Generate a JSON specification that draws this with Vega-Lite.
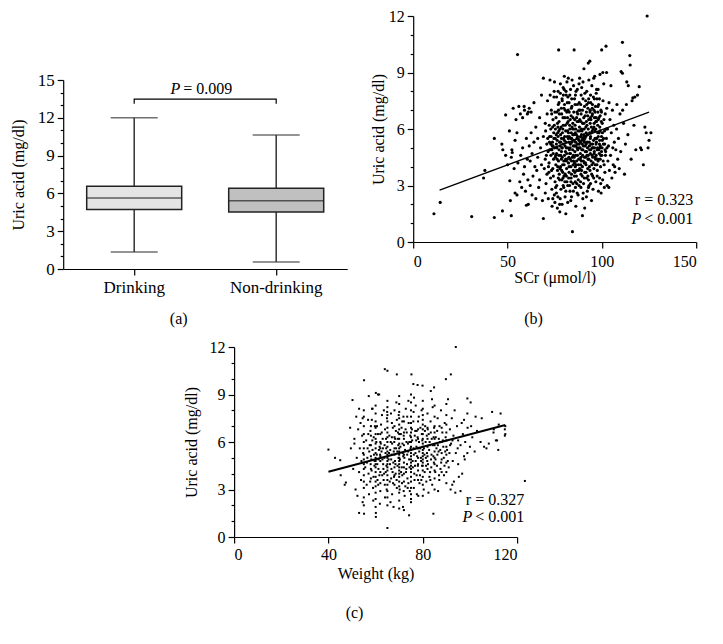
{
  "$schema": "https://vega.github.io/schema/vega-lite/v6.json",
  "padding": {"left": 10, "top": 8, "right": 5, "bottom": 5},
  "background": "white",
  "config": {
    "font": "Liberation Serif",
    "view": {"stroke": null},
    "axis": {
      "grid": false,
      "domainColor": "#000",
      "domainWidth": 1.2,
      "tickColor": "#000",
      "tickWidth": 1.2,
      "tickSize": 6,
      "labelFont": "Liberation Serif",
      "labelFontSize": 16,
      "labelColor": "#000",
      "labelPadding": 3,
      "labelOverlap": false,
      "titleFont": "Liberation Serif",
      "titleFontSize": 16,
      "titleFontWeight": "normal",
      "titleColor": "#000"
    },
    "title": {"font": "Liberation Serif", "fontSize": 16, "fontWeight": "normal", "color": "#000"},
    "text": {"font": "Liberation Serif", "fontSize": 16, "color": "#000"}
  },
  "datasets": {
    "whisk": [
      {"g": "Drinking", "v": 1.35, "v2": 12.0},
      {"g": "Non-drinking", "v": 0.55, "v2": 10.63}
    ],
    "iqr": [
      {"g": "Drinking", "v": 4.72, "v2": 6.57},
      {"g": "Non-drinking", "v": 4.53, "v2": 6.41}
    ],
    "median": [
      {"g": "Drinking", "v": 5.64},
      {"g": "Non-drinking", "v": 5.41}
    ],
    "caps": [
      {"g": "Drinking", "v": 1.35},
      {"g": "Drinking", "v": 12.0},
      {"g": "Non-drinking", "v": 0.55},
      {"g": "Non-drinking", "v": 10.63}
    ],
    "bracket": [
      {"g": "Drinking", "v": 13.12, "o": 1},
      {"g": "Drinking", "v": 13.49, "o": 2},
      {"g": "Non-drinking", "v": 13.49, "o": 3},
      {"g": "Non-drinking", "v": 13.12, "o": 4}
    ],
    "b": [
      {"s":11,"u":1.5},{"s":14.3,"u":2.1},{"s":31,"u":1.35},{"s":37.3,"u":3.4},{"s":38,"u":3.8},{"s":43,"u":1.3},{"s":43,"u":5.5},{"s":47.3,"u":1.65},{"s":49,"u":6.75},{"s":52,"u":1.4},
      {"s":47,"u":5.2},{"s":47.5,"u":4.9},{"s":49,"u":4.6},{"s":50,"u":4.1},{"s":51,"u":5.9},{"s":51.2,"u":3.25},{"s":51.5,"u":2.2},{"s":52,"u":4.5},{"s":52.3,"u":4.9},{"s":52.5,"u":4.75},
      {"s":53,"u":7.1},{"s":53.5,"u":3.9},{"s":54,"u":2.6},{"s":54,"u":5.4},{"s":54.5,"u":6.5},{"s":55,"u":5.8},{"s":55,"u":2.5},{"s":55.3,"u":9.95},{"s":55.5,"u":4.2},{"s":56,"u":7.2},
      {"s":56.5,"u":3.2},{"s":56.8,"u":6.8},{"s":57,"u":4.6},{"s":57.5,"u":2.9},{"s":58,"u":5.0},{"s":58,"u":6.6},{"s":58.5,"u":3.6},{"s":59,"u":7.0},{"s":59,"u":4.0},{"s":59.5,"u":2.7},
      {"s":60,"u":5.5},{"s":60,"u":1.95},{"s":60.5,"u":4.4},{"s":60.8,"u":3.3},{"s":61,"u":6.9},{"s":61,"u":2.0},{"s":61.5,"u":5.1},{"s":62,"u":4.3},{"s":62,"u":3.0},{"s":62.5,"u":5.8},
      {"s":63,"u":2.5},{"s":63,"u":4.7},{"s":63.5,"u":3.5},{"s":64,"u":5.3},{"s":64,"u":7.4},{"s":64.5,"u":4.0},{"s":65,"u":2.3},{"s":65,"u":6.1},{"s":65.5,"u":3.8},{"s":66,"u":5.5},
      {"s":66,"u":4.5},{"s":66.5,"u":2.9},{"s":67,"u":6.6},{"s":67,"u":3.3},{"s":67.5,"u":5.0},{"s":68,"u":4.1},{"s":68,"u":7.8},{"s":68.5,"u":2.2},{"s":69,"u":1.25},{"s":69,"u":8.7},
      {"s":69,"u":5.6},{"s":69.5,"u":3.9},{"s":70,"u":6.3},{"s":70,"u":4.4},{"s":70,"u":2.6},{"s":58.8,"u":7.2},{"s":60.5,"u":6.8},{"s":61.5,"u":7.1},{"s":62.5,"u":6.9},
      {"s":70.4,"u":3.1},{"s":70.8,"u":5.2},{"s":71.2,"u":7.5},{"s":71.5,"u":4.8},{"s":71.9,"u":3.7},{"s":70.2,"u":5.9},{"s":71,"u":6.8},{"s":71.6,"u":2.3},{"s":72,"u":4.2},{"s":72.3,"u":5.6},{"s":72.5,"u":8.6},{"s":72.8,"u":3.4},{"s":72.1,"u":6.2},
      {"s":73,"u":4.6},{"s":73.2,"u":7.0},{"s":73.5,"u":2.8},{"s":73.8,"u":5.3},{"s":74,"u":3.9},{"s":74.1,"u":6.5},{"s":74.4,"u":4.4},{"s":74.6,"u":7.7},{"s":74.8,"u":2.5},{"s":75,"u":5.0},{"s":75.2,"u":3.2},{"s":75.4,"u":6.0},{"s":75.6,"u":4.1},{"s":75.8,"u":5.7},{"s":73.6,"u":1.9},{"s":74.9,"u":8.5},{"s":75.1,"u":2.1},
      {"s":76,"u":4.7},{"s":76.1,"u":3.0},{"s":76.3,"u":5.4},{"s":76.5,"u":6.3},{"s":76.7,"u":2.4},{"s":76.9,"u":7.3},{"s":77,"u":4.3},{"s":77.2,"u":5.9},{"s":77.4,"u":3.6},{"s":77.5,"u":6.8},{"s":77.7,"u":1.6},{"s":77.9,"u":5.1},{"s":78,"u":8.4},{"s":78.1,"u":4.0},{"s":78.3,"u":2.8},{"s":78.4,"u":6.1},{"s":78.6,"u":5.5},{"s":78.8,"u":3.3},{"s":78.9,"u":7.6},{"s":76.4,"u":1.8},{"s":77.1,"u":10.2},{"s":78.2,"u":4.6},{"s":76.8,"u":8.0},{"s":77.6,"u":2.0},
      {"s":79,"u":4.5},{"s":79.1,"u":5.8},{"s":79.3,"u":3.7},{"s":79.4,"u":6.6},{"s":79.6,"u":5.2},{"s":79.8,"u":2.9},{"s":79.9,"u":7.1},{"s":80,"u":4.1},{"s":80.1,"u":8.8},{"s":80.3,"u":5.6},{"s":80.4,"u":3.2},{"s":80.6,"u":6.2},{"s":80.7,"u":4.8},{"s":80.9,"u":1.5},{"s":81,"u":5.3},{"s":81.1,"u":7.8},{"s":81.3,"u":3.9},{"s":81.4,"u":6.9},{"s":81.6,"u":4.4},{"s":81.8,"u":5.9},{"s":79.5,"u":8.2},{"s":80.5,"u":2.4},{"s":81.5,"u":8.5},{"s":81.9,"u":3.0},
      {"s":82,"u":5.0},{"s":82.1,"u":6.4},{"s":82.3,"u":4.2},{"s":82.4,"u":3.4},{"s":82.6,"u":7.4},{"s":82.7,"u":5.6},{"s":82.9,"u":4.7},{"s":83,"u":6.0},{"s":83.1,"u":2.7},{"s":83.3,"u":5.2},{"s":83.4,"u":8.1},{"s":83.6,"u":4.0},{"s":83.7,"u":6.7},{"s":83.9,"u":3.6},{"s":84,"u":5.5},{"s":84.1,"u":7.2},{"s":84.3,"u":4.5},{"s":84.4,"u":0.55},{"s":84.6,"u":6.3},{"s":84.7,"u":3.1},{"s":84.8,"u":5.1},{"s":82.2,"u":8.7},{"s":83.5,"u":2.2},{"s":84.2,"u":8.6},{"s":82.8,"u":4.9},{"s":83.8,"u":5.8},
      {"s":85,"u":4.3},{"s":85.1,"u":6.9},{"s":85.2,"u":5.7},{"s":85.4,"u":3.5},{"s":85.5,"u":7.6},{"s":85.7,"u":4.8},{"s":85.8,"u":6.2},{"s":86,"u":2.9},{"s":86.1,"u":5.3},{"s":86.3,"u":8.0},{"s":86.4,"u":4.1},{"s":86.6,"u":6.6},{"s":86.7,"u":3.8},{"s":86.9,"u":5.0},{"s":87,"u":7.3},{"s":87.1,"u":4.6},{"s":87.3,"u":5.9},{"s":87.4,"u":2.5},{"s":87.6,"u":6.4},{"s":87.7,"u":4.4},{"s":87.9,"u":8.4},{"s":85.3,"u":10.2},{"s":86.2,"u":1.9},{"s":86.8,"u":5.5},{"s":85.9,"u":4.0},{"s":87.5,"u":3.3},
      {"s":88,"u":5.2},{"s":88.1,"u":6.1},{"s":88.3,"u":3.9},{"s":88.4,"u":7.0},{"s":88.6,"u":4.7},{"s":88.7,"u":5.6},{"s":88.9,"u":2.9},{"s":89,"u":6.8},{"s":89.1,"u":4.3},{"s":89.3,"u":8.2},{"s":89.4,"u":5.4},{"s":89.6,"u":3.5},{"s":89.7,"u":1.4},{"s":89.8,"u":6.3},{"s":89.9,"u":4.9},{"s":90,"u":7.6},{"s":90.2,"u":5.1},{"s":90.3,"u":3.1},{"s":90.5,"u":9.2},{"s":90.6,"u":6.0},{"s":90.8,"u":4.5},{"s":90.9,"u":1.8},{"s":88.2,"u":8.7},{"s":88.8,"u":4.1},{"s":89.5,"u":5.9},{"s":90.1,"u":2.6},
      {"s":91,"u":5.5},{"s":91.1,"u":6.7},{"s":91.3,"u":4.2},{"s":91.4,"u":7.5},{"s":91.6,"u":3.7},{"s":91.7,"u":5.8},{"s":91.9,"u":4.8},{"s":92,"u":8.0},{"s":92.1,"u":6.2},{"s":92.3,"u":2.7},{"s":92.4,"u":5.0},{"s":92.6,"u":7.1},{"s":92.7,"u":4.4},{"s":92.9,"u":3.3},{"s":93,"u":6.5},{"s":93.1,"u":8.6},{"s":93.3,"u":5.3},{"s":93.4,"u":4.0},{"s":93.6,"u":9.6},{"s":93.7,"u":6.9},{"s":93.9,"u":4.7},{"s":92.8,"u":9.5},{"s":91.8,"u":2.4},{"s":93.2,"u":3.0},
      {"s":94,"u":5.6},{"s":94.1,"u":7.4},{"s":94.3,"u":4.3},{"s":94.4,"u":6.1},{"s":94.6,"u":3.6},{"s":94.7,"u":8.3},{"s":94.9,"u":5.0},{"s":95,"u":6.8},{"s":95.2,"u":4.5},{"s":95.3,"u":2.8},{"s":95.5,"u":7.7},{"s":95.6,"u":5.4},{"s":95.8,"u":3.9},{"s":95.9,"u":6.3},{"s":96,"u":4.8},{"s":96.2,"u":8.8},{"s":96.3,"u":5.9},{"s":96.5,"u":4.1},{"s":96.6,"u":7.2},{"s":96.8,"u":3.2},{"s":96.9,"u":5.2},{"s":94.5,"u":2.2},{"s":95.7,"u":8.7},{"s":96.1,"u":6.6},
      {"s":97,"u":4.6},{"s":97.1,"u":6.4},{"s":97.3,"u":5.5},{"s":97.4,"u":7.6},{"s":97.6,"u":3.8},{"s":97.7,"u":5.0},{"s":97.9,"u":6.9},{"s":98,"u":4.3},{"s":98.2,"u":2.7},{"s":98.3,"u":7.3},{"s":98.5,"u":5.8},{"s":98.6,"u":4.7},{"s":98.8,"u":3.4},{"s":98.9,"u":6.1},{"s":99,"u":8.9},{"s":99.2,"u":5.1},{"s":99.3,"u":4.0},{"s":99.5,"u":7.0},{"s":99.6,"u":2.6},{"s":99.8,"u":5.6},{"s":99.9,"u":10.2},{"s":97.2,"u":8.1},{"s":98.4,"u":6.6},{"s":99.4,"u":3.1},
      {"s":100,"u":4.6},{"s":100.2,"u":6.3},{"s":100.4,"u":3.3},{"s":100.6,"u":7.5},{"s":100.8,"u":5.2},{"s":101,"u":8.4},{"s":101.2,"u":4.1},{"s":101.4,"u":5.9},{"s":101.6,"u":3.7},{"s":101.8,"u":6.8},{"s":102,"u":4.8},{"s":102.2,"u":10.4},{"s":102.4,"u":5.5},{"s":102.6,"u":7.1},{"s":102.8,"u":3.0},{"s":103,"u":6.0},{"s":100.5,"u":9.0},{"s":101.3,"u":2.9},{"s":102.5,"u":9.0},{"s":103.2,"u":4.3},
      {"s":103.5,"u":5.1},{"s":103.8,"u":7.4},{"s":104,"u":3.8},{"s":104.3,"u":6.5},{"s":104.6,"u":4.6},{"s":105,"u":5.8},{"s":105.3,"u":3.4},{"s":105.6,"u":7.0},{"s":106,"u":4.1},{"s":106.3,"u":6.2},{"s":106.6,"u":5.3},{"s":107,"u":3.7},{"s":107.4,"u":4.9},{"s":107.8,"u":6.0},{"s":108,"u":7.3},{"s":108.4,"u":4.4},{"s":108.8,"u":5.5},{"s":109.2,"u":3.9},{"s":109.6,"u":6.8},{"s":110,"u":4.8},{"s":104.8,"u":8.3},{"s":106.8,"u":4.0},{"s":103.7,"u":2.9},{"s":105.8,"u":5.0},
      {"s":110.2,"u":9.05},{"s":110.9,"u":10.6},{"s":110.9,"u":8.96},{"s":111.5,"u":6.3},{"s":112,"u":3.6},{"s":112.5,"u":5.2},{"s":113,"u":7.3},{"s":113.2,"u":8.5},{"s":114,"u":8.3},{"s":114.8,"u":9.9},{"s":115,"u":9.4},{"s":115.5,"u":4.4},{"s":116,"u":7.5},{"s":116.4,"u":7.65},{"s":117.5,"u":7.7},{"s":118,"u":4.9},{"s":118.9,"u":7.8},{"s":119.8,"u":8.25},{"s":120.5,"u":5.0},{"s":122,"u":4.1},{"s":122.8,"u":6.1},{"s":123.5,"u":5.8},{"s":124,"u":12.0},{"s":124.5,"u":5.0},{"s":125,"u":5.4},{"s":126,"u":5.8},{"s":111,"u":7.0},{"s":113.8,"u":5.7},{"s":117,"u":6.2},{"s":121,"u":4.9},
      {"s":72.4,"u":4.9},{"s":72.9,"u":6.0},{"s":73.3,"u":3.8},{"s":73.7,"u":5.1},{"s":74.2,"u":4.7},{"s":74.5,"u":5.8},{"s":74.3,"u":3.5},{"s":75.3,"u":4.5},{"s":75.7,"u":6.6},{"s":75.5,"u":2.9},
      {"s":76.2,"u":5.0},{"s":76.6,"u":4.0},{"s":76.6,"u":5.8},{"s":77.3,"u":4.9},{"s":77.8,"u":3.9},{"s":77.3,"u":6.4},{"s":78.5,"u":4.4},{"s":78.7,"u":6.8},{"s":78.2,"u":5.3},{"s":79.2,"u":4.1},
      {"s":79.7,"u":5.5},{"s":79.4,"u":3.4},{"s":80.2,"u":4.6},{"s":80.8,"u":5.9},{"s":80.2,"u":7.3},{"s":81.2,"u":4.3},{"s":81.7,"u":5.6},{"s":81.2,"u":3.5},{"s":82.5,"u":4.5},{"s":82.5,"u":5.3},
      {"s":82.1,"u":7.0},{"s":83.2,"u":4.4},{"s":83.2,"u":6.5},{"s":83.6,"u":3.2},{"s":84.5,"u":4.9},{"s":84.5,"u":6.0},{"s":84.9,"u":3.8},{"s":85.6,"u":5.1},{"s":85.3,"u":4.5},{"s":85.6,"u":6.5},
      {"s":86.2,"u":4.6},{"s":86.5,"u":5.7},{"s":86.5,"u":3.5},{"s":87.2,"u":4.9},{"s":87.8,"u":5.4},{"s":87.2,"u":6.8},{"s":88.5,"u":4.4},{"s":88.5,"u":5.0},{"s":88.9,"u":6.4},{"s":89.2,"u":3.8},
      {"s":89.2,"u":5.7},{"s":89.8,"u":4.6},{"s":90.4,"u":5.4},{"s":90.7,"u":4.2},{"s":90.4,"u":6.6},{"s":91.2,"u":5.1},{"s":91.5,"u":4.5},{"s":91.5,"u":6.1},{"s":92.2,"u":5.3},{"s":92.5,"u":3.9},
      {"s":92.5,"u":6.7},{"s":93.5,"u":4.9},{"s":93.5,"u":5.8},{"s":93.8,"u":7.0},{"s":94.2,"u":5.2},{"s":94.8,"u":4.6},{"s":94.2,"u":6.5},{"s":95.4,"u":5.0},{"s":95.4,"u":6.0},{"s":95.1,"u":3.5},
      {"s":96.4,"u":5.5},{"s":96.7,"u":4.4},{"s":96.4,"u":6.9},{"s":97.5,"u":4.9},{"s":97.8,"u":6.2},{"s":97.5,"u":3.5},{"s":98.7,"u":5.2},{"s":98.1,"u":5.6},{"s":98.7,"u":7.6},{"s":99.1,"u":4.4},
      {"s":99.7,"u":6.4},{"s":99.1,"u":6.7},{"s":100.1,"u":5.0},{"s":100.3,"u":5.8},{"s":100.7,"u":4.3},{"s":101.1,"u":6.5},{"s":101.5,"u":5.2},{"s":101.9,"u":4.6},{"s":102.3,"u":6.0},{"s":102.7,"u":5.0},
      {"s":70.6,"u":4.6},{"s":71.3,"u":5.5},{"s":71.7,"u":4.0},{"s":70.9,"u":3.6},{"s":72.6,"u":7.8},{"s":73.4,"u":6.8},{"s":74.7,"u":8.0},{"s":76.0,"u":7.7},{"s":77.0,"u":7.0},{"s":78.0,"u":7.9},
      {"s":79.0,"u":7.5},{"s":80.0,"u":8.1},{"s":81.0,"u":8.0},{"s":82.0,"u":7.7},{"s":83.0,"u":7.8},{"s":84.0,"u":7.6},{"s":85.0,"u":8.3},{"s":86.0,"u":7.8},{"s":87.0,"u":8.1},{"s":88.0,"u":7.4},
      {"s":89.0,"u":7.8},{"s":90.0,"u":8.5},{"s":91.0,"u":7.9},{"s":92.0,"u":7.3},{"s":93.0,"u":7.6},{"s":94.0,"u":7.8},{"s":95.0,"u":7.3},{"s":96.0,"u":7.6},{"s":97.0,"u":7.9},{"s":98.0,"u":8.1},
      {"s":74.0,"u":2.3},{"s":75.9,"u":2.6},{"s":76.9,"u":3.4},{"s":77.9,"u":2.3},{"s":78.9,"u":2.0},{"s":79.9,"u":3.5},{"s":80.9,"u":2.7},{"s":81.9,"u":2.1},{"s":82.9,"u":3.0},{"s":83.9,"u":2.4},
      {"s":84.9,"u":2.7},{"s":85.9,"u":3.2},{"s":86.9,"u":2.6},{"s":87.9,"u":3.0},{"s":88.9,"u":3.6},{"s":89.9,"u":2.3},{"s":90.9,"u":3.7},{"s":91.9,"u":3.4},{"s":92.9,"u":2.9},{"s":94.0,"u":3.1},
      {"s":72.2,"u":5.3},{"s":73.1,"u":5.6},{"s":74.6,"u":5.5},{"s":75.9,"u":5.2},{"s":76.7,"u":6.1},{"s":77.6,"u":5.3},{"s":78.8,"u":5.0},{"s":79.5,"u":6.2},{"s":80.5,"u":5.1},{"s":81.6,"u":6.3},
      {"s":82.3,"u":5.8},{"s":83.4,"u":4.7},{"s":84.1,"u":5.3},{"s":85.2,"u":5.4},{"s":86.1,"u":6.0},{"s":87.1,"u":5.2},{"s":88.2,"u":5.9},{"s":89.4,"u":4.9},{"s":90.6,"u":5.7},{"s":91.7,"u":5.2},
      {"s":92.8,"u":4.6},{"s":93.9,"u":5.5},{"s":94.9,"u":5.9},{"s":95.9,"u":4.7},{"s":96.8,"u":6.0},{"s":97.8,"u":4.4},{"s":98.9,"u":5.0},{"s":99.8,"u":4.8},{"s":100.9,"u":5.5},{"s":101.7,"u":4.9},
      {"s":76.3,"u":4.4},{"s":76.8,"u":5.6},{"s":77.2,"u":4.6},{"s":77.7,"u":6.0},{"s":78.1,"u":5.7},{"s":78.6,"u":4.8},{"s":79.0,"u":5.0},{"s":79.3,"u":6.0},{"s":79.8,"u":4.3},{"s":80.1,"u":5.4},
      {"s":80.4,"u":6.6},{"s":80.8,"u":4.4},{"s":81.1,"u":5.0},{"s":81.4,"u":4.7},{"s":81.8,"u":6.6},{"s":82.2,"u":5.5},{"s":82.6,"u":4.0},{"s":82.9,"u":6.2},{"s":83.2,"u":5.0},{"s":83.5,"u":5.5},
      {"s":83.9,"u":4.3},{"s":84.2,"u":6.1},{"s":84.6,"u":5.7},{"s":84.9,"u":4.6},{"s":85.2,"u":6.0},{"s":85.5,"u":4.2},{"s":85.9,"u":5.8},{"s":86.2,"u":5.1},{"s":86.6,"u":4.3},{"s":86.9,"u":6.4},
      {"s":87.2,"u":5.6},{"s":87.6,"u":4.1},{"s":87.9,"u":5.0},{"s":88.3,"u":6.5},{"s":88.6,"u":5.3},{"s":88.9,"u":4.5},{"s":89.2,"u":6.0},{"s":89.6,"u":5.2},{"s":89.9,"u":5.5},{"s":90.2,"u":4.3},
      {"s":90.5,"u":6.3},{"s":90.8,"u":5.3},{"s":91.2,"u":4.8},{"s":91.5,"u":5.6},{"s":91.8,"u":6.4},{"s":92.1,"u":4.6},{"s":92.4,"u":5.7},{"s":92.8,"u":6.0},{"s":93.1,"u":4.4},{"s":93.4,"u":5.1},
      {"s":93.8,"u":6.3},{"s":94.1,"u":4.9},{"s":94.4,"u":5.8},{"s":94.8,"u":6.7},{"s":95.1,"u":5.2},{"s":95.4,"u":4.2},{"s":95.8,"u":6.1},{"s":96.1,"u":5.0},{"s":96.4,"u":4.5},{"s":96.8,"u":6.4},
      {"s":97.1,"u":5.3},{"s":97.4,"u":4.1},{"s":97.8,"u":5.8},{"s":98.1,"u":6.5},{"s":98.4,"u":4.9},{"s":98.8,"u":5.4},{"s":99.1,"u":5.9},{"s":99.4,"u":4.6},{"s":99.8,"u":6.9},{"s":100.2,"u":5.4},
      {"s":74.1,"u":5.1},{"s":74.8,"u":6.2},{"s":75.3,"u":5.5},{"s":75.6,"u":4.6},{"s":73.5,"u":4.9},{"s":72.9,"u":5.2},{"s":73.9,"u":6.1},{"s":75.1,"u":6.9},{"s":76.2,"u":6.9},{"s":77.3,"u":7.4},
      {"s":78.5,"u":7.1},{"s":79.6,"u":7.8},{"s":80.6,"u":7.0},{"s":81.7,"u":7.4},{"s":82.7,"u":6.9},{"s":83.8,"u":7.1},{"s":84.7,"u":6.6},{"s":85.8,"u":7.3},{"s":86.8,"u":6.9},{"s":87.8,"u":7.0},
      {"s":88.8,"u":7.3},{"s":89.7,"u":7.0},{"s":90.8,"u":7.2},{"s":91.8,"u":6.9},{"s":92.9,"u":7.4},{"s":93.9,"u":6.6},{"s":94.9,"u":7.1},{"s":95.8,"u":7.0},{"s":96.9,"u":6.6},{"s":97.9,"u":7.2},
      {"s":76.5,"u":3.8},{"s":77.6,"u":3.3},{"s":78.7,"u":3.8},{"s":79.5,"u":3.0},{"s":80.6,"u":3.6},{"s":81.5,"u":3.2},{"s":82.6,"u":3.7},{"s":83.7,"u":3.4},{"s":84.8,"u":4.1},{"s":85.7,"u":3.7},
      {"s":86.7,"u":3.1},{"s":87.7,"u":3.8},{"s":88.7,"u":3.2},{"s":89.7,"u":4.0},{"s":90.7,"u":3.4},{"s":91.6,"u":4.1},{"s":92.6,"u":3.5},{"s":93.7,"u":3.8},{"s":94.7,"u":4.1},{"s":95.7,"u":3.4}
    ],
    "bline": [{"s": 14, "u": 2.75}, {"s": 125, "u": 6.9}],
    "bnote": [{"s": 148.4, "u": 2.22, "t": "r = 0.323"}, {"s": 148.4, "u": 1.22, "t": "< 0.001"}],
    "bp": [{"s": 148.4, "u": 1.22, "t": "P"}],
    "c": [
      {"w":40,"u":5.52},{"w":42.8,"u":5.0},{"w":45,"u":4.85},{"w":45.2,"u":3.9},{"w":47.4,"u":3.44},{"w":46.9,"u":3.3},{"w":49.2,"u":6.9},{"w":50.2,"u":8.65},{"w":49.5,"u":5.6},{"w":51,"u":5.9},
      {"w":53,"u":8.1},{"w":54.5,"u":7.5},{"w":55.1,"u":9.9},{"w":57.1,"u":8.9},{"w":58.7,"u":8.1},{"w":60.1,"u":9.1},{"w":61,"u":9.0},{"w":63.9,"u":10.6},{"w":65,"u":10.5},{"w":69,"u":10.27},
      {"w":75.2,"u":10.27},{"w":76,"u":9.66},{"w":79.9,"u":9.56},{"w":83.4,"u":9.22},{"w":84.8,"u":9.45},{"w":89.8,"u":9.97},{"w":91.9,"u":10.27},{"w":94,"u":12.0},{"w":65,"u":0.57},{"w":84.5,"u":1.47},
      {"w":53,"u":1.52},{"w":55.1,"u":1.47},{"w":60.1,"u":1.52},{"w":60.1,"u":1.27},{"w":72,"u":1.7},{"w":74.2,"u":1.37},{"w":123.3,"u":3.54},
      {"w":98.9,"u":8.75},{"w":100.3,"u":8.5},{"w":98.9,"u":7.8},{"w":97.5,"u":7.4},{"w":102.4,"u":7.6},{"w":104.5,"u":6.0},{"w":108,"u":5.9},{"w":109.4,"u":7.9},{"w":110.1,"u":6.8},{"w":112.2,"u":7.1},
      {"w":114.8,"u":6.8},{"w":114.8,"u":6.4},{"w":111.5,"u":6.1},{"w":97.8,"u":4.9},{"w":98.9,"u":5.3},{"w":95.3,"u":3.8},{"w":96.7,"u":4.0},{"w":93.2,"u":3.5},{"w":92.5,"u":3.3},{"w":96,"u":2.9},
      {"w":55,"u":2.0},{"w":55,"u":2.5},{"w":55,"u":3.1},{"w":55,"u":3.5},{"w":55,"u":3.9},{"w":55,"u":4.3},{"w":55,"u":4.6},{"w":55,"u":4.9},{"w":55,"u":5.2},{"w":55,"u":5.6},{"w":55,"u":6.0},{"w":55,"u":6.5},{"w":55,"u":7.0},{"w":55,"u":7.6},{"w":55,"u":8.0},
      {"w":60,"u":1.9},{"w":60,"u":2.4},{"w":60,"u":2.8},{"w":60,"u":3.2},{"w":60,"u":3.5},{"w":60,"u":3.8},{"w":60,"u":4.1},{"w":60,"u":4.4},{"w":60,"u":4.6},{"w":60,"u":4.8},{"w":60,"u":5.0},{"w":60,"u":5.3},{"w":60,"u":5.6},{"w":60,"u":5.9},{"w":60,"u":6.2},{"w":60,"u":6.5},{"w":60,"u":6.9},{"w":60,"u":7.3},{"w":60,"u":7.8},{"w":60,"u":8.3},
      {"w":65,"u":2.0},{"w":65,"u":2.5},{"w":65,"u":2.9},{"w":65,"u":3.3},{"w":65,"u":3.6},{"w":65,"u":3.9},{"w":65,"u":4.2},{"w":65,"u":4.4},{"w":65,"u":4.6},{"w":65,"u":4.8},{"w":65,"u":5.0},{"w":65,"u":5.2},{"w":65,"u":5.4},{"w":65,"u":5.7},{"w":65,"u":6.0},{"w":65,"u":6.3},{"w":65,"u":6.6},{"w":65,"u":6.9},{"w":65,"u":7.3},{"w":65,"u":7.7},{"w":65,"u":8.2},{"w":65,"u":8.6},
      {"w":70,"u":1.8},{"w":70,"u":2.3},{"w":70,"u":2.8},{"w":70,"u":3.2},{"w":70,"u":3.5},{"w":70,"u":3.8},{"w":70,"u":4.0},{"w":70,"u":4.2},{"w":70,"u":4.4},{"w":70,"u":4.6},{"w":70,"u":4.8},{"w":70,"u":5.0},{"w":70,"u":5.2},{"w":70,"u":5.4},{"w":70,"u":5.6},{"w":70,"u":5.9},{"w":70,"u":6.2},{"w":70,"u":6.5},{"w":70,"u":6.8},{"w":70,"u":7.1},{"w":70,"u":7.5},{"w":70,"u":7.9},{"w":70,"u":8.4},{"w":70,"u":8.9},
      {"w":75,"u":2.2},{"w":75,"u":2.7},{"w":75,"u":3.1},{"w":75,"u":3.5},{"w":75,"u":3.8},{"w":75,"u":4.1},{"w":75,"u":4.3},{"w":75,"u":4.5},{"w":75,"u":4.7},{"w":75,"u":4.9},{"w":75,"u":5.1},{"w":75,"u":5.3},{"w":75,"u":5.5},{"w":75,"u":5.7},{"w":75,"u":6.0},{"w":75,"u":6.3},{"w":75,"u":6.6},{"w":75,"u":6.9},{"w":75,"u":7.2},{"w":75,"u":7.6},{"w":75,"u":8.0},{"w":75,"u":8.5},{"w":75,"u":9.0},{"w":75,"u":2.4},
      {"w":80,"u":3.3},{"w":80,"u":3.8},{"w":80,"u":4.2},{"w":80,"u":4.5},{"w":80,"u":4.7},{"w":80,"u":4.9},{"w":80,"u":5.1},{"w":80,"u":5.3},{"w":80,"u":5.5},{"w":80,"u":5.7},{"w":80,"u":5.9},{"w":80,"u":6.2},{"w":80,"u":6.5},{"w":80,"u":6.8},{"w":80,"u":7.1},{"w":80,"u":7.4},{"w":80,"u":7.7},{"w":80,"u":8.1},{"w":80,"u":8.6},{"w":80,"u":2.6},
      {"w":85,"u":3.0},{"w":85,"u":3.7},{"w":85,"u":4.2},{"w":85,"u":4.6},{"w":85,"u":5.0},{"w":85,"u":5.4},{"w":85,"u":5.8},{"w":85,"u":6.2},{"w":85,"u":6.6},{"w":85,"u":7.0},{"w":85,"u":7.6},{"w":85,"u":8.3},
      {"w":90,"u":3.4},{"w":90,"u":4.1},{"w":90,"u":4.7},{"w":90,"u":5.2},{"w":90,"u":5.7},{"w":90,"u":6.1},{"w":90,"u":6.6},{"w":90,"u":7.1},{"w":90,"u":7.7},{"w":90,"u":8.4},
      {"w":50.5,"u":4.3},{"w":51,"u":6.2},{"w":51.5,"u":3.0},{"w":51.8,"u":7.6},{"w":52,"u":5.0},{"w":52.3,"u":2.6},{"w":52.6,"u":6.8},{"w":53,"u":4.1},{"w":53.3,"u":5.6},{"w":53.6,"u":7.2},{"w":53.8,"u":3.6},{"w":54,"u":4.8},{"w":54.3,"u":6.4},{"w":54.5,"u":2.2},{"w":54.7,"u":5.3},
      {"w":55.6,"u":4.4},{"w":56,"u":6.1},{"w":56.2,"u":3.3},{"w":56.5,"u":5.0},{"w":56.8,"u":7.4},{"w":57,"u":4.0},{"w":57.2,"u":2.7},{"w":57.5,"u":5.8},{"w":57.8,"u":6.7},{"w":58,"u":3.7},{"w":58.2,"u":4.9},{"w":58.5,"u":8.1},{"w":58.7,"u":5.5},{"w":59,"u":2.3},{"w":59.2,"u":6.3},{"w":59.5,"u":4.5},{"w":59.7,"u":7.0},{"w":58.9,"u":3.1},
      {"w":60.5,"u":5.2},{"w":60.8,"u":3.6},{"w":61,"u":6.5},{"w":61.2,"u":4.3},{"w":61.5,"u":9.0},{"w":61.7,"u":5.7},{"w":62,"u":2.9},{"w":62,"u":4.8},{"w":62.3,"u":7.1},{"w":62.5,"u":5.4},{"w":62.8,"u":3.9},{"w":63,"u":6.2},{"w":63.2,"u":4.6},{"w":63.5,"u":8.0},{"w":63.7,"u":5.0},{"w":64,"u":2.5},{"w":64,"u":6.8},{"w":64.3,"u":4.1},{"w":64.5,"u":5.6},{"w":64.8,"u":7.5},{"w":63.9,"u":3.3},{"w":61.8,"u":2.1},
      {"w":65.5,"u":4.9},{"w":65.8,"u":6.4},{"w":66,"u":3.5},{"w":66.2,"u":5.5},{"w":66.5,"u":7.8},{"w":66.7,"u":4.3},{"w":67,"u":5.9},{"w":67,"u":2.7},{"w":67.3,"u":6.9},{"w":67.5,"u":4.7},{"w":67.8,"u":3.8},{"w":68,"u":5.2},{"w":68,"u":8.0},{"w":68.3,"u":6.2},{"w":68.5,"u":4.0},{"w":68.7,"u":5.6},{"w":69,"u":7.4},{"w":69,"u":3.1},{"w":69.3,"u":4.5},{"w":69.5,"u":6.6},{"w":69.7,"u":5.0},{"w":66.3,"u":2.2},{"w":68.8,"u":8.5},{"w":67.6,"u":1.9},
      {"w":70.5,"u":5.7},{"w":70.8,"u":4.1},{"w":71,"u":6.9},{"w":71.2,"u":3.4},{"w":71.5,"u":5.3},{"w":71.8,"u":7.6},{"w":72,"u":4.7},{"w":72,"u":6.2},{"w":72.3,"u":2.6},{"w":72.5,"u":5.5},{"w":72.8,"u":8.1},{"w":73,"u":4.3},{"w":73.2,"u":6.6},{"w":73.5,"u":3.7},{"w":73.7,"u":5.9},{"w":74,"u":7.2},{"w":74.2,"u":4.9},{"w":74.5,"u":2.9},{"w":74.7,"u":6.4},{"w":73.9,"u":8.6},{"w":71.6,"u":1.9},{"w":72.6,"u":3.2},
      {"w":75.5,"u":6.1},{"w":75.8,"u":4.4},{"w":76,"u":7.3},{"w":76.2,"u":5.2},{"w":76.5,"u":3.6},{"w":76.8,"u":6.7},{"w":77,"u":4.8},{"w":77,"u":8.3},{"w":77.3,"u":5.7},{"w":77.5,"u":2.7},{"w":77.8,"u":6.3},{"w":78,"u":4.2},{"w":78.3,"u":7.6},{"w":78.5,"u":5.4},{"w":78.8,"u":3.9},{"w":79,"u":6.9},{"w":79.2,"u":5.0},{"w":79.5,"u":8.0},{"w":79.7,"u":4.5},{"w":78.1,"u":2.6},{"w":76.3,"u":8.8},{"w":77.8,"u":9.6},
      {"w":80.5,"u":5.6},{"w":80.8,"u":4.1},{"w":81,"u":7.0},{"w":81.2,"u":6.0},{"w":81.5,"u":3.5},{"w":81.8,"u":5.3},{"w":82,"u":7.8},{"w":82.2,"u":4.6},{"w":82.5,"u":6.5},{"w":82.8,"u":3.8},{"w":83,"u":5.8},{"w":83.3,"u":7.3},{"w":83.5,"u":4.9},{"w":83.8,"u":6.2},{"w":84,"u":3.3},{"w":84.2,"u":8.2},{"w":84.5,"u":5.1},{"w":84.8,"u":6.9},{"w":82.4,"u":2.8},{"w":83.9,"u":8.7},
      {"w":85.5,"u":6.3},{"w":86,"u":4.5},{"w":86.3,"u":7.5},{"w":86.7,"u":5.4},{"w":87,"u":3.6},{"w":87.3,"u":6.0},{"w":87.7,"u":8.0},{"w":88,"u":4.9},{"w":88.3,"u":6.6},{"w":88.7,"u":5.7},{"w":89,"u":3.9},{"w":89.3,"u":7.2},{"w":89.7,"u":6.3},{"w":90.3,"u":5.5},{"w":90.7,"u":8.7},{"w":91,"u":4.4},{"w":91.5,"u":6.8},{"w":92,"u":5.9},{"w":92.3,"u":7.5},{"w":92.7,"u":4.8},{"w":93,"u":6.4},{"w":93.5,"u":8.0},{"w":94,"u":5.3},{"w":94.5,"u":7.0},{"w":95,"u":6.1},{"w":95,"u":4.6},{"w":91.8,"u":3.0},{"w":93.8,"u":2.8},{"w":94.8,"u":5.6},{"w":86.5,"u":2.9},
      {"w":96,"u":5.8},{"w":96.5,"u":7.2},{"w":97,"u":6.5},{"w":97.5,"u":5.1},{"w":98,"u":6.0},{"w":99,"u":6.9},{"w":100,"u":5.7},{"w":100.5,"u":7.0},{"w":101,"u":6.3},{"w":102,"u":5.4},{"w":103,"u":6.7},{"w":105,"u":7.5},{"w":106,"u":5.7},{"w":107,"u":5.6},{"w":110,"u":6.6},{"w":111,"u":6.1},{"w":112,"u":5.5},{"w":113,"u":7.8},{"w":115,"u":6.5},{"w":115,"u":7.0},
      {"w":56.3,"u":4.7},{"w":57.3,"u":5.4},{"w":58.3,"u":4.2},{"w":59.3,"u":5.2},{"w":61.3,"u":4.9},{"w":62.2,"u":5.9},{"w":63.3,"u":4.3},{"w":64.2,"u":5.3},{"w":66.1,"u":4.6},{"w":66.8,"u":5.2},
      {"w":67.2,"u":4.1},{"w":68.2,"u":4.8},{"w":69.2,"u":5.4},{"w":71.1,"u":4.4},{"w":71.4,"u":5.9},{"w":72.2,"u":5.0},{"w":73.3,"u":4.6},{"w":73.8,"u":5.4},{"w":74.4,"u":4.4},{"w":76.1,"u":5.6},
      {"w":76.7,"u":4.5},{"w":77.6,"u":5.1},{"w":78.4,"u":6.0},{"w":79.3,"u":4.8},{"w":81.3,"u":5.0},{"w":81.7,"u":6.4},{"w":82.7,"u":5.5},{"w":83.6,"u":4.4},{"w":84.3,"u":5.8},{"w":86.2,"u":5.2},
      {"w":87.5,"u":4.3},{"w":88.5,"u":6.1},{"w":56.6,"u":5.6},{"w":57.7,"u":3.5},{"w":58.6,"u":6.1},{"w":61.6,"u":3.9},{"w":62.6,"u":6.6},{"w":63.6,"u":4.0},{"w":66.4,"u":6.0},{"w":67.4,"u":3.4},
      {"w":68.6,"u":6.7},{"w":71.3,"u":3.9},{"w":72.7,"u":6.8},{"w":73.6,"u":3.1},{"w":76.4,"u":4.0},{"w":77.2,"u":6.1},{"w":78.6,"u":3.4},{"w":81.4,"u":4.5},{"w":82.1,"u":6.8},{"w":83.1,"u":4.1},
      {"w":62,"u":3.4},{"w":62,"u":4.1},{"w":62,"u":5.1},{"w":62,"u":5.6},{"w":62,"u":6.0},{"w":62,"u":6.5},{"w":68,"u":3.3},{"w":68,"u":3.9},{"w":68,"u":4.4},{"w":68,"u":5.6},{"w":68,"u":6.3},{"w":68,"u":7.0},
      {"w":72,"u":3.5},{"w":72,"u":4.0},{"w":72,"u":4.4},{"w":72,"u":5.2},{"w":72,"u":5.8},{"w":72,"u":6.6},{"w":72,"u":7.3},{"w":78,"u":3.6},{"w":78,"u":4.6},{"w":78,"u":5.0},{"w":78,"u":5.6},{"w":78,"u":6.2},
      {"w":78,"u":6.8},{"w":78,"u":7.3},{"w":58,"u":4.3},{"w":58,"u":5.1},{"w":58,"u":5.8},{"w":58,"u":6.4},{"w":58,"u":7.0},{"w":82,"u":4.3},{"w":82,"u":5.1},{"w":82,"u":5.7},{"w":82,"u":6.2},{"w":82,"u":6.9},
      {"w":88,"u":4.1},{"w":88,"u":5.3},{"w":88,"u":6.0},{"w":88,"u":6.9},{"w":85.8,"u":5.6},{"w":86.8,"u":6.2},{"w":87.8,"u":4.7},{"w":89.5,"u":5.4},{"w":91.3,"u":5.3},{"w":92.6,"u":6.1},
      {"w":59.6,"u":4.8},{"w":60.7,"u":4.6},{"w":61.9,"u":5.2},{"w":62.9,"u":4.9},{"w":63.8,"u":5.8},{"w":64.6,"u":4.5},{"w":65.7,"u":5.3},{"w":66.6,"u":4.9},{"w":67.7,"u":5.4},{"w":68.4,"u":4.6},
      {"w":69.6,"u":5.8},{"w":70.3,"u":4.9},{"w":71.7,"u":5.1},{"w":72.9,"u":4.1},{"w":73.4,"u":5.2},{"w":74.8,"u":5.6},{"w":75.7,"u":4.8},{"w":76.9,"u":5.3},{"w":77.9,"u":4.5},{"w":78.9,"u":5.6},
      {"w":79.8,"u":6.1},{"w":80.7,"u":5.2},{"w":81.9,"u":4.8},{"w":82.9,"u":6.0},{"w":83.7,"u":5.2},{"w":84.7,"u":4.7},{"w":85.4,"u":4.9},{"w":86.4,"u":5.8},{"w":87.4,"u":5.5},{"w":88.9,"u":5.0},
      {"w":60.3,"u":6.0},{"w":61.4,"u":5.5},{"w":63.1,"u":5.6},{"w":64.4,"u":6.2},{"w":66.9,"u":6.3},{"w":67.9,"u":6.0},{"w":69.4,"u":6.2},{"w":70.7,"u":6.5},{"w":71.9,"u":6.4},{"w":73.1,"u":6.0},
      {"w":74.3,"u":6.0},{"w":75.4,"u":6.8},{"w":76.6,"u":6.4},{"w":77.4,"u":6.7},{"w":79.6,"u":6.5},{"w":80.9,"u":6.7},{"w":83.4,"u":6.6},{"w":84.6,"u":6.3},{"w":86.1,"u":6.7},{"w":87.1,"u":7.0},
      {"w":57.9,"u":4.6},{"w":59.1,"u":3.8},{"w":61.1,"u":3.3},{"w":63.4,"u":3.6},{"w":64.7,"u":3.0},{"w":66.6,"u":3.7},{"w":68.9,"u":3.6},{"w":70.2,"u":3.0},{"w":71.9,"u":2.9},{"w":73.9,"u":3.4},
      {"w":76.2,"u":3.1},{"w":77.4,"u":3.9},{"w":79.4,"u":3.6},{"w":80.4,"u":3.0},{"w":83.2,"u":3.6},{"w":85.3,"u":4.1},{"w":86.9,"u":3.9},{"w":89.2,"u":4.5},{"w":90.6,"u":4.8},{"w":91.6,"u":5.8},
      {"w":56.9,"u":6.5},{"w":58.4,"u":7.4},{"w":60.6,"u":7.0},{"w":62.7,"u":7.7},{"w":64.9,"u":7.9},{"w":66.9,"u":7.2},{"w":69.8,"u":7.7},{"w":71.3,"u":7.3},{"w":73.4,"u":7.6},{"w":76.1,"u":7.9}
    ],
    "cline": [{"w": 40, "u": 4.12}, {"w": 115, "u": 7.07}],
    "cnote": [{"w": 123, "u": 2.32, "t": "r = 0.327"}, {"w": 123, "u": 1.28, "t": "< 0.001"}],
    "cp": [{"w": 123, "u": 1.28, "t": "P"}]
  },
  "vconcat": [
    {
      "spacing": 23,
      "hconcat": [
        {
          "width": 284,
          "height": 253,
          "title": {"text": "(a)", "orient": "bottom", "frame": "bounds", "anchor": "middle", "offset": 16},
          "encoding": {
            "x": {
              "field": "g", "type": "nominal",
              "scale": {"domain": ["Drinking", "Non-drinking"], "paddingInner": 0, "paddingOuter": 0},
              "axis": {"labelAngle": 0, "labelFontSize": 17, "title": null, "labelPadding": 4}
            },
            "y": {"field": "v", "type": "quantitative",
              "scale": {"domain": [0, 15], "nice": false, "range": [253, 64]},
              "axis": {"values": [0,1,2,3,4,5,6,7,8,9,10,11,12,13,14,15], "labelExpr": "datum.value % 3 === 0 ? datum.label : ''",
                "labelFontSize": 17, "labelOverlap": false,
                "tickSize": {"condition": {"test": "datum.value % 3 === 0", "value": 6}, "value": 3},
                "title": "Uric acid (mg/dl)", "titlePadding": 11}}
          },
          "layer": [
            {
              "data": {"name": "whisk"},
              "mark": {"type": "rule", "color": "#333", "strokeWidth": 1.5},
              "encoding": {"y2": {"field": "v2"}}
            },
            {
              "data": {"name": "iqr"},
              "mark": {"type": "bar", "size": 95, "stroke": "#222", "strokeWidth": 1.5},
              "encoding": {
                "y2": {"field": "v2"},
                "fill": {"field": "g", "type": "nominal", "scale": {"domain": ["Drinking", "Non-drinking"], "range": ["#e4e4e4", "#c0c0c0"]}, "legend": null}
              }
            },
            {
              "data": {"name": "median"},
              "mark": {"type": "tick", "size": 95, "thickness": 1.5, "color": "#222"}
            },
            {
              "data": {"name": "caps"},
              "mark": {"type": "tick", "size": 47, "thickness": 1.5, "color": "#333"}
            },
            {
              "data": {"name": "bracket"},
              "mark": {"type": "line", "color": "#000", "strokeWidth": 1.2},
              "encoding": {"order": {"field": "o"}}
            },
            {
              "data": {"values": [{"g": "Drinking", "v": 14.29, "t": "P"}]},
              "mark": {"type": "text", "fontStyle": "italic", "align": "right", "baseline": "middle", "dx": -25},
              "encoding": {
                "x": {"field": "g", "type": "nominal", "bandPosition": 1},
                "text": {"field": "t"}
              }
            },
            {
              "data": {"values": [{"g": "Drinking", "v": 14.29, "t": "= 0.009"}]},
              "mark": {"type": "text", "align": "left", "baseline": "middle", "dx": -22},
              "encoding": {
                "x": {"field": "g", "type": "nominal", "bandPosition": 1},
                "text": {"field": "t"}
              }
            }
          ]
        },
        {
          "width": 283,
          "height": 226,
          "title": {"text": "(b)", "orient": "bottom", "frame": "bounds", "anchor": "middle", "offset": 26},
          "encoding": {
            "x": {"field": "s", "type": "quantitative",
              "scale": {"domain": [0, 150], "nice": false},
              "axis": {"values": [0, 50, 100, 150], "title": "SCr (μmol/l)", "titlePadding": 0, "labelPadding": 5}},
            "y": {"field": "u", "type": "quantitative",
              "scale": {"domain": [0, 12], "nice": false},
              "axis": {"values": [0,1,2,3,4,5,6,7,8,9,10,11,12], "labelExpr": "datum.value % 3 === 0 ? datum.label : ''",
                "labelOverlap": false,
                "tickSize": {"condition": {"test": "datum.value % 3 === 0", "value": 6}, "value": 3},
                "title": "Uric acid (mg/dl)", "titlePadding": 2}}
          },
          "layer": [
            {
              "data": {"name": "b"},
              "mark": {"type": "point", "filled": true, "shape": "circle", "size": 10, "color": "#000", "opacity": 1}
            },
            {
              "data": {"name": "bline"},
              "mark": {"type": "line", "color": "#000", "strokeWidth": 1.3}
            },
            {
              "data": {"name": "bnote"},
              "mark": {"type": "text", "align": "right", "baseline": "middle"},
              "encoding": {"text": {"field": "t"}}
            },
            {
              "data": {"name": "bp"},
              "mark": {"type": "text", "align": "right", "baseline": "middle", "fontStyle": "italic", "dx": -52},
              "encoding": {"text": {"field": "t"}}
            }
          ]
        }
      ]
    },
    {
      "width": 283,
      "height": 190,
      "title": {"text": "(c)", "orient": "bottom", "frame": "bounds", "anchor": "middle", "offset": 24},
      "encoding": {
        "x": {"field": "w", "type": "quantitative",
          "scale": {"domain": [0, 120], "nice": false},
          "axis": {"values": [0, 40, 80, 120], "title": "Weight (kg)", "titlePadding": 3}},
        "y": {"field": "u", "type": "quantitative",
          "scale": {"domain": [0, 12], "nice": false},
          "axis": {"values": [0,1,2,3,4,5,6,7,8,9,10,11,12], "labelExpr": "datum.value % 3 === 0 ? datum.label : ''",
            "labelOverlap": false,
            "tickSize": {"condition": {"test": "datum.value % 3 === 0", "value": 6}, "value": 3},
            "title": "Uric acid (mg/dl)", "titlePadding": 10}}
      },
      "layer": [
        {
          "data": {"name": "c"},
          "mark": {"type": "point", "filled": true, "shape": "square", "size": 4, "color": "#000", "opacity": 1}
        },
        {
          "data": {"name": "cline"},
          "mark": {"type": "line", "color": "#000", "strokeWidth": 2}
        },
        {
          "data": {"name": "cnote"},
          "mark": {"type": "text", "align": "right", "baseline": "middle"},
          "encoding": {"text": {"field": "t"}}
        },
        {
          "data": {"name": "cp"},
          "mark": {"type": "text", "align": "right", "baseline": "middle", "fontStyle": "italic", "dx": -52},
          "encoding": {"text": {"field": "t"}}
        }
      ]
    }
  ],
  "spacing": 12,
  "center": true
}
